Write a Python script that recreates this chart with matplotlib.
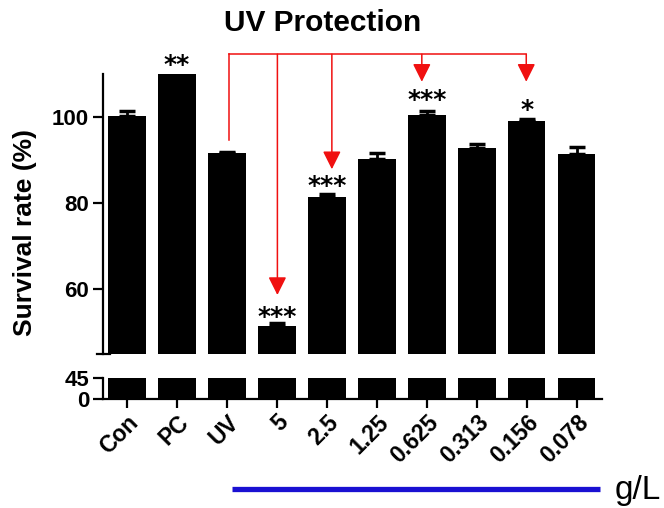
import numpy as np
import matplotlib
matplotlib.use("Agg")
import matplotlib.pyplot as plt
from matplotlib import transforms

plt.rcParams['font.family'] = ['Liberation Sans', 'DejaVu Sans']

# data
groups = ["Con", "PC", "UV", "5", "2.5", "1.25", "0.625", "0.313", "0.156", "0.078"]
survival = [100.2, 110.0, 91.7, 51.4, 81.4, 90.2, 100.6, 92.9, 99.0, 91.5]
err = [1.3, 0.0, 0.3, 0.8, 0.8, 1.4, 0.7, 0.8, 0.5, 1.6]
stars = {1: "**", 3: "***", 4: "***", 6: "***", 8: "*"}
star_y = {1: 113.7, 3: 55.2, 4: 85.6, 6: 105.6, 8: 103.3}
# arrows: from UV to treated groups
arrow_x = {3: 3.01, 4: 4.10, 6: 5.90, 8: 7.99}
arrow_tip = {3: 58.7, 4: 87.9, 6: 108.2, 8: 108.2}
uv_x, uv_end, bracket_y = 2.05, 94.7, 114.6

x = np.arange(len(groups))
fig = plt.figure(figsize=(6.64, 5.08), dpi=100)
ax = fig.add_axes([0.1551, 0.3031, 0.7511, 0.5512])
ax2 = fig.add_axes([0.1551, 0.2146, 0.7511, 0.04134])

for a in (ax, ax2):
    a.bar(x, survival, width=0.75, color="black")
    a.errorbar(x, survival, yerr=[np.zeros(len(err)), err], fmt="none",
               ecolor="black", elinewidth=2, capsize=6, capthick=2.5)
    a.set_xlim(-0.48, 9.5)
    for s in ("top", "right"):
        a.spines[s].set_visible(False)
    a.spines["left"].set_linewidth(1.6)
    a.tick_params(axis="y", length=7, width=1.6, pad=3, labelsize=16)

ax.set_ylim(45, 110)
ax.spines["bottom"].set_visible(False)
ax.set_xticks([])
ax.set_yticks([60, 80, 100])
ax.set_yticklabels(["60", "80", "100"], fontweight="bold")
# small end mark at the break
ax.plot([-0.013, 0.014], [45, 45], color="black", lw=1.6,
        transform=ax.get_yaxis_transform(), clip_on=False)

ax2.set_ylim(0, 45)
ax2.set_yticks([0, 45])
ax2.set_yticklabels(["0", "45"], fontweight="bold")
ax2.spines["bottom"].set_linewidth(1.6)
ax2.set_xticks(x)
ax2.set_xticklabels(groups, rotation=45, ha="right", rotation_mode="anchor",
                    fontweight="bold", fontsize=16.5)
ax2.tick_params(axis="x", length=6.5, width=1.6, pad=2)

# significance stars
for i, s in stars.items():
    ax.annotate(s, (i, star_y[i]), xytext=(0, -10), textcoords="offset points",
                ha="center", va="baseline", fontsize=18, fontweight="bold",
                family="DejaVu Sans", annotation_clip=False)

# red arrows
red = "#f01010"
ax.plot([uv_x, max(arrow_x.values())], [bracket_y, bracket_y], color=red, lw=1.1, clip_on=False)
ax.plot([uv_x, uv_x], [bracket_y, uv_end], color=red, lw=1.1, clip_on=False)
for i, xx in arrow_x.items():
    ax.annotate("", xy=(xx, arrow_tip[i]), xytext=(xx, bracket_y),
                arrowprops=dict(arrowstyle="-|>,head_length=1.1,head_width=0.55",
                                color=red, lw=1.1, mutation_scale=10,
                                shrinkA=0, shrinkB=0),
                annotation_clip=False)

# title and axis label
fig.text(0.4865, 0.9547, "UV Protection", ha="center", va="center",
         fontsize=21.5, fontweight="bold")
fig.text(0.038, 0.543, "Survival rate (%)", rotation=90, ha="center", va="center",
         fontsize=19, fontweight="bold")

# concentration bar
trans = transforms.blended_transform_factory(ax2.transData, fig.transFigure)
ax2.plot([2.1, 9.46], [0.0374, 0.0374], color="#1a10d2", lw=3.8,
         transform=trans, clip_on=False, solid_capstyle="butt")
fig.text(0.926, 0.035, "g/L", ha="left", va="center", fontsize=24)

plt.savefig("out.png", dpi=100)
